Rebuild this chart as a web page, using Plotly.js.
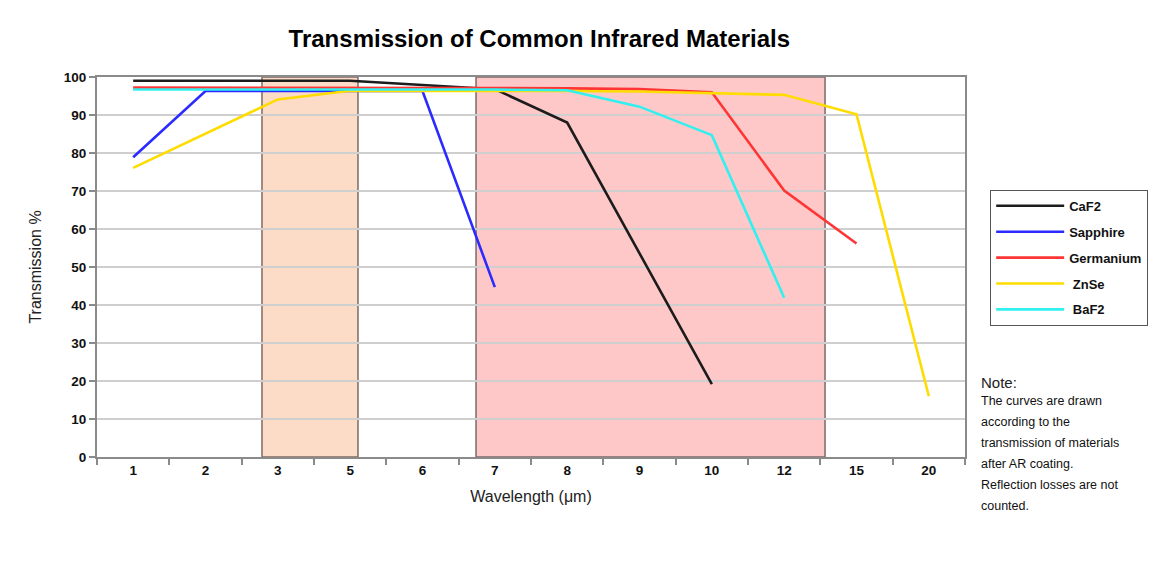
<!DOCTYPE html>
<html>
<head>
<meta charset="utf-8">
<script src="https://cdn.plot.ly/plotly-3.0.1.min.js"></script>
<style>html,body{margin:0;padding:0;background:#fff;}#chart{width:1175px;height:562px;}</style>
</head>
<body>
<div id="chart"></div>
<script>
// Wavelength categories (µm)
const wavelengths = ["1","2","3","5","6","7","8","9","10","12","15","20"];
// Transmission % per material (null = no point)
const caf2      = [99, 99, 99, 99, 97.9, 96.8, 88, null, 19.2, null, null, null];
const sapphire  = [78.9, 96.3, 96.3, 96.3, 96.3, 44.7, null, null, null, null, null, null];
const germanium = [97.2, 97.2, 97.2, 97.2, 97.2, 97.1, 97, 96.8, 96, 70.1, 56.2, null];
const znse      = [76.1, null, 94.1, 96.4, 96.4, 96.3, 96.3, 96.2, 95.7, 95.3, 90.2, 16];
const baf2      = [96.7, 96.7, 96.7, 96.7, 96.7, 96.7, 96.5, 92.2, 84.7, 41.9, null, null];
const seriesNames = ["CaF2", "Sapphire", "Germanium", " ZnSe", " BaF2"];
const seriesColors = ["#1c1c1c", "#2b2bff", "#ff3535", "#ffdc00", "#30f0f0"];
const yTicks = [0,10,20,30,40,50,60,70,80,90,100];
const noteLines = ["The curves are drawn", "according to the", "transmission of materials", "after AR coating.", "Reflection losses are not", "counted."];

const allData = [caf2, sapphire, germanium, znse, baf2];
const traces = allData.map((vals, i) => ({
  type: "scatter", mode: "lines",
  x: wavelengths, y: vals,
  name: seriesNames[i],
  legendgroup: "g" + i,
  connectgaps: true,
  line: {color: seriesColors[i], width: 2.6},
  hoverinfo: "x+y+name"
}));

const FONT = "'Liberation Sans', 'Arial', sans-serif";

const annotations = [{
  xref: "paper", yref: "paper", x: 1.016, y: 0.197, xanchor: "left", yanchor: "middle",
  text: "Note:", showarrow: false, font: {family: FONT, size: 15, color: "#222"}
}];
noteLines.forEach((t, i) => {
  annotations.push({
    xref: "paper", yref: "paper", x: 1.016, y: 0.147 - i * 0.0553, xanchor: "left", yanchor: "middle",
    text: t, showarrow: false, font: {family: FONT, size: 12.5, color: "#111"}
  });
});

const layout = {
  width: 1175, height: 562,
  margin: {l: 97, r: 210, t: 77, b: 105},
  paper_bgcolor: "#ffffff", plot_bgcolor: "#ffffff",
  font: {family: FONT, color: "#111"},
  title: {text: "<b>Transmission of Common Infrared Materials</b>", x: 0.459, xanchor: "center", y: 0.932, yanchor: "middle",
          font: {family: FONT, size: 24, color: "#000"}},
  showlegend: true,
  legend: {
    x: 1.029, y: 0.703, xanchor: "left", yanchor: "top",
    bordercolor: "#555", borderwidth: 1, bgcolor: "#fff",
    traceorder: "grouped", tracegroupgap: 6,
    font: {family: FONT, size: 13, color: "#111", weight: "bold"},
    itemwidth: 68
  },
  xaxis: {
    type: "category", categoryorder: "array", categoryarray: wavelengths,
    range: [-0.5, 11.5],
    showgrid: false, zeroline: false,
    showline: true, linecolor: "#8a8a8a", linewidth: 2, mirror: true,
    ticks: "outside", tickson: "boundaries", ticklen: 6, tickcolor: "#8a8a8a", tickwidth: 2,
    tickfont: {family: FONT, size: 13.5, color: "#111", weight: "bold"},
    title: {text: "Wavelength (\u03bcm)", font: {family: FONT, size: 16, color: "#222"}, standoff: 14}
  },
  yaxis: {
    range: [0, 100], tickvals: yTicks, ticktext: yTicks.map(String),
    showgrid: true, gridcolor: "#cfcfcf", gridwidth: 2,
    zeroline: false,
    showline: true, linecolor: "#8a8a8a", linewidth: 2, mirror: true,
    ticks: "outside", ticklen: 6, tickcolor: "#8a8a8a", tickwidth: 2,
    tickfont: {family: FONT, size: 13.5, color: "#111", weight: "bold"},
    title: {text: "Transmission %", font: {family: FONT, size: 16, color: "#222"}, standoff: 18}
  },
  shapes: [
    {type: "rect", xref: "x", yref: "paper", x0: 1.781, x1: 3.108, y0: 0, y1: 1, layer: "below",
     fillcolor: "#fddcc7", line: {color: "#806a62", width: 1.5}},
    {type: "rect", xref: "x", yref: "paper", x0: 4.74, x1: 9.565, y0: 0, y1: 1, layer: "below",
     fillcolor: "#ffc8c8", line: {color: "#7d6a6a", width: 1.5}}
  ],
  annotations: annotations
};

Plotly.newPlot("chart", traces, layout, {displayModeBar: false, staticPlot: true});
</script>
</body>
</html>
